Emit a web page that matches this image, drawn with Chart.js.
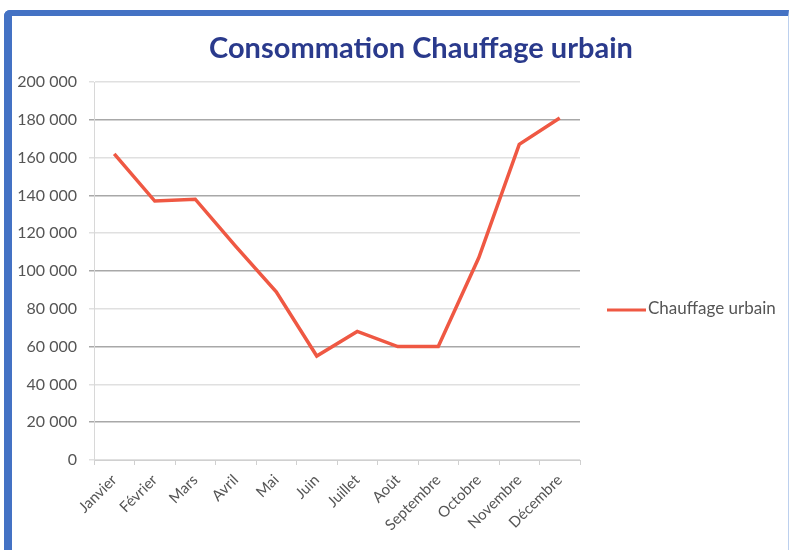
<!DOCTYPE html>
<html>
<head>
<meta charset="utf-8">
<script src="https://cdn.jsdelivr.net/npm/chart.js@4"></script>
<style>
body { margin:0; background:#fff; }
#frame { position:absolute; left:4px; top:10px; width:776px; height:560px;
  border-left:8px solid #4472c4; border-top:6px solid #4472c4; border-right:1px solid #bcd0ee;
  border-top-left-radius:6px; background:#fff; }
#wrap { position:absolute; left:0; top:0; width:789px; height:550px; }
</style>
</head>
<body>
<div id="frame"></div>
<div id="wrap"><canvas id="chart" width="789" height="550"></canvas></div>
<script>
const months = ["Janvier","Février","Mars","Avril","Mai","Juin","Juillet","Août","Septembre","Octobre","Novembre","Décembre"]
const chauffage = [162000,137000,138000,113000,89000,55000,68000,60000,60000,107000,167000,181000]
const yTicks = [0,20000,40000,60000,80000,100000,120000,140000,160000,180000,200000]

const titre = "Consommation Chauffage urbain"
const grey = "#555555"

// nombre avec espace : 200 000
function fmt(v){
    return String(v).replace(/\B(?=(\d{3})+(?!\d))/g, " ")
}

// titre + légende dessinés à la main
const labelsPlugin = {
    id: "labels",
    afterDraw(chart){
        const ctx = chart.ctx
        ctx.save()
        ctx.fillStyle = "#2a3a8c"
        ctx.font = "bold 29px Lato"
        ctx.textAlign = "center"
        ctx.textBaseline = "middle"
        ctx.fillText(titre, 421, 49)

        const ds = chart.data.datasets[0]
        ctx.strokeStyle = ds.borderColor
        ctx.lineWidth = 3
        ctx.beginPath()
        ctx.moveTo(607, 310)
        ctx.lineTo(646, 310)
        ctx.stroke()
        ctx.fillStyle = grey
        ctx.font = "17px Lato"
        ctx.textAlign = "left"
        ctx.fillText(ds.label, 648, 309)
        ctx.restore()
    }
}

new Chart(document.getElementById("chart"), {
    type: "line",
    data: {
        labels: months,
        datasets: [{
            label: "Chauffage urbain",
            data: chauffage,
            borderColor: "#ef5843",
            backgroundColor: "#ef5843",
            borderWidth: 3.5,
            pointRadius: 0,
            tension: 0
        }]
    },
    options: {
        responsive: false,
        animation: false,
        layout: { padding: { top: 82, right: 209, left: 0, bottom: 0 } },
        plugins: { legend: { display: false }, title: { display: false }, tooltip: { enabled: false } },
        scales: {
            x: {
                offset: true,
                afterFit(s){ s.height = 90 },
                grid: { offset: true, drawOnChartArea: false, tickLength: 5, color: "#d0d0d0" },
                border: { color: "#d0d0d0" },
                ticks: { color: grey, font: { family: "Lato", size: 15 }, minRotation: 45, maxRotation: 45, padding: 6 }
            },
            y: {
                min: 0,
                max: 200000,
                afterFit(s){ s.width = 94 },
                afterBuildTicks(s){ s.ticks = yTicks.map(v => ({ value: v })) },
                grid: {
                    tickLength: 5,
                    lineWidth: 1.5,
                    color: c => (c.tick && c.tick.value % 40000 == 20000) ? "#a8a8a8" : "#e0e0e0"
                },
                border: { color: "#d8d8d8" },
                ticks: { color: grey, font: { family: "Lato", size: 16 }, padding: 12, callback: v => fmt(v) }
            }
        }
    },
    plugins: [labelsPlugin]
})
</script>
</body>
</html>
